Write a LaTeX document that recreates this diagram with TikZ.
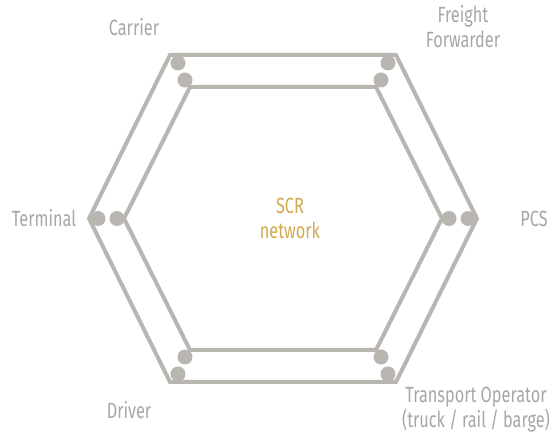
\documentclass[tikz,border=0pt]{standalone}
\usepackage{fontspec}
\setmainfont{Fira Sans}[FakeStretch=0.74]
\definecolor{hexgray}{HTML}{B9B5B1}
\definecolor{labgray}{HTML}{A9A7A5}
\definecolor{gold}{HTML}{D2A94E}
\begin{document}
\begin{tikzpicture}[x=1pt,y=-1pt,
  edge/.style={draw=hexgray,line width=4pt,line join=miter},
  dot/.style={circle,fill=hexgray,inner sep=0pt,minimum size=15pt},
  lab/.style={text=labgray,font=\fontsize{22}{25}\selectfont,align=center,inner sep=0pt},
  centre/.style={text=gold,font=\fontsize{22}{25}\selectfont,align=center,inner sep=0pt}]
\useasboundingbox (0,0) rectangle (555,435);
% outer hexagon
\coordinate (o1) at (170,55);
\coordinate (o2) at (396,55);
\coordinate (o3) at (477,218.5);
\coordinate (o4) at (396,382);
\coordinate (o5) at (170,382);
\coordinate (o6) at (89,218.5);
% inner hexagon
\coordinate (i1) at (190,87);
\coordinate (i2) at (376,87);
\coordinate (i3) at (442,218.5);
\coordinate (i4) at (376,350);
\coordinate (i5) at (190,350);
\coordinate (i6) at (124,218.5);
\draw[edge] (o1) -- (o2) -- (o3) -- (o4) -- (o5) -- (o6) -- cycle;
\draw[edge] (i1) -- (i2) -- (i3) -- (i4) -- (i5) -- (i6) -- cycle;
% dots
\node[dot] (d1o) at (178,63) {};
\node[dot] (d1i) at (185,80) {};
\node[dot] (d2o) at (388,63) {};
\node[dot] (d2i) at (381,80) {};
\node[dot] (d3o) at (468,218.5) {};
\node[dot] (d3i) at (449,218.5) {};
\node[dot] (d4o) at (388,374) {};
\node[dot] (d4i) at (381,357) {};
\node[dot] (d5o) at (178,374) {};
\node[dot] (d5i) at (185,357) {};
\node[dot] (d6o) at (98,218.5) {};
\node[dot] (d6i) at (117,218.5) {};
% labels
\node[lab] (carrier) at (134,27) {Carrier};
\node[lab] (ff) at (463,27) {Freight\\Forwarder};
\node[lab] (terminal) at (44,218.5) {Terminal};
\node[lab] (pcs) at (534,218.5) {PCS};
\node[lab] (driver) at (129,410) {Driver};
\node[lab] (to) at (476,410) {Transport Operator\\(truck / rail / barge)};
\node[centre] (scr) at (290,218.5) {SCR\\network};
\end{tikzpicture}
\end{document}
